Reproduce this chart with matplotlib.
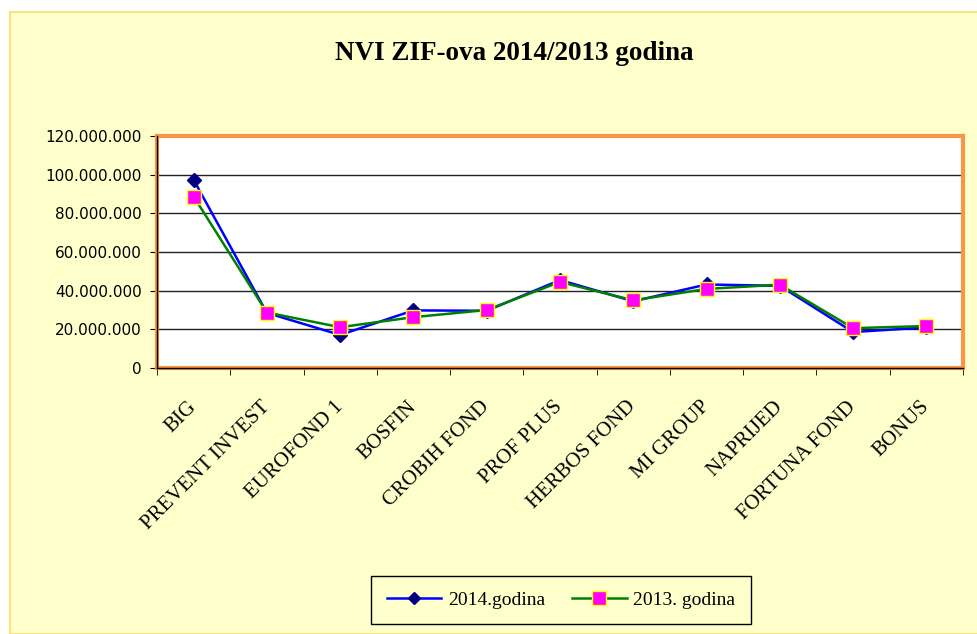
import matplotlib
matplotlib.use("Agg")
import matplotlib.pyplot as plt
from matplotlib.patches import Rectangle
from matplotlib.ticker import FuncFormatter, FixedLocator

fondovi = ["BIG", "PREVENT INVEST", "EUROFOND 1", "BOSFIN", "CROBIH FOND",
           "PROF PLUS", "HERBOS FOND", "MI GROUP", "NAPRIJED", "FORTUNA FOND", "BONUS"]
nvi_2014 = [97300000, 28500000, 17100000, 29800000, 29600000, 45500000,
            34500000, 43200000, 42500000, 18600000, 21000000]
nvi_2013 = [88700000, 28700000, 21100000, 26300000, 30000000, 44500000,
            35000000, 40900000, 43100000, 20600000, 21700000]

pozadina = "#FFFFCC"
narandzasta = "#F79646"

fig = plt.figure(figsize=(9.78, 6.34), dpi=100)
fig.patch.set_facecolor("white")
# zuta pozadina grafikona
fig.patches.append(Rectangle((10/978, 0), 1, 1 - 12/634, transform=fig.transFigure,
                             facecolor=pozadina, edgecolor="#FFD966", lw=1.2, zorder=-5))

ax = fig.add_axes([157/978, (634-368)/634, (963-157)/978, (368-136)/634])
ax.set_facecolor("white")

x = list(range(len(fondovi)))
ax.plot(x, nvi_2014, color="#0000FF", lw=1.8, marker="D", ms=7,
        mfc="#000080", mec="#000080", label="2014.godina", zorder=3)
ax.plot(x, nvi_2013, color="#008000", lw=1.8, marker="s", ms=9.5,
        mfc="#FF00FF", mec="#FFFF00", mew=1, label="2013. godina", zorder=4)

ax.set_xlim(-0.5, len(fondovi) - 0.5)
ax.set_ylim(0, 120000000)
ax.set_yticks(range(0, 120000001, 20000000))
ax.yaxis.set_major_formatter(FuncFormatter(lambda v, p: f"{int(v):,}".replace(",", ".")))
ax.grid(axis="y", color="#222222", lw=1)
ax.set_axisbelow(True)

ax.set_xticks(x)
ax.set_xticklabels(fondovi, rotation=45, ha="right", va="center", rotation_mode="anchor",
                   family="Liberation Serif", fontsize=15)
ax.tick_params(axis="x", which="major", length=0, pad=26)
ax.xaxis.set_minor_locator(FixedLocator([i - 0.5 for i in range(len(fondovi) + 1)]))
ax.tick_params(axis="x", which="minor", length=5, direction="out", color="black")
ax.tick_params(axis="y", length=5, direction="out", color="black", labelsize=11, pad=6)

for s in ax.spines.values():
    s.set_color(narandzasta)
    s.set_linewidth(3)
ax.plot([0, 0], [0, 1], color="black", lw=1, transform=ax.transAxes, clip_on=False, zorder=5)
ax.plot([0, 1], [0, 0], color="black", lw=1, transform=ax.transAxes, clip_on=False, zorder=5)

fig.text(514/978, 1 - 53/634, "NVI ZIF-ova 2014/2013 godina", ha="center", va="center",
         family="Liberation Serif", fontweight="bold", fontsize=19.5)

leg = fig.legend(loc="center", bbox_to_anchor=(561/978, 1 - 600/634), ncol=2,
                 prop={"family": "Liberation Serif", "size": 14}, frameon=True,
                 fancybox=False, edgecolor="black", facecolor=pozadina, framealpha=1,
                 handlelength=2.8, handletextpad=0.35, columnspacing=1.4, borderpad=0.8,
                 borderaxespad=0)
leg.get_frame().set_linewidth(1)
leg.legend_handles[0].set_markersize(6)

fig.savefig("out.png", dpi=100)
